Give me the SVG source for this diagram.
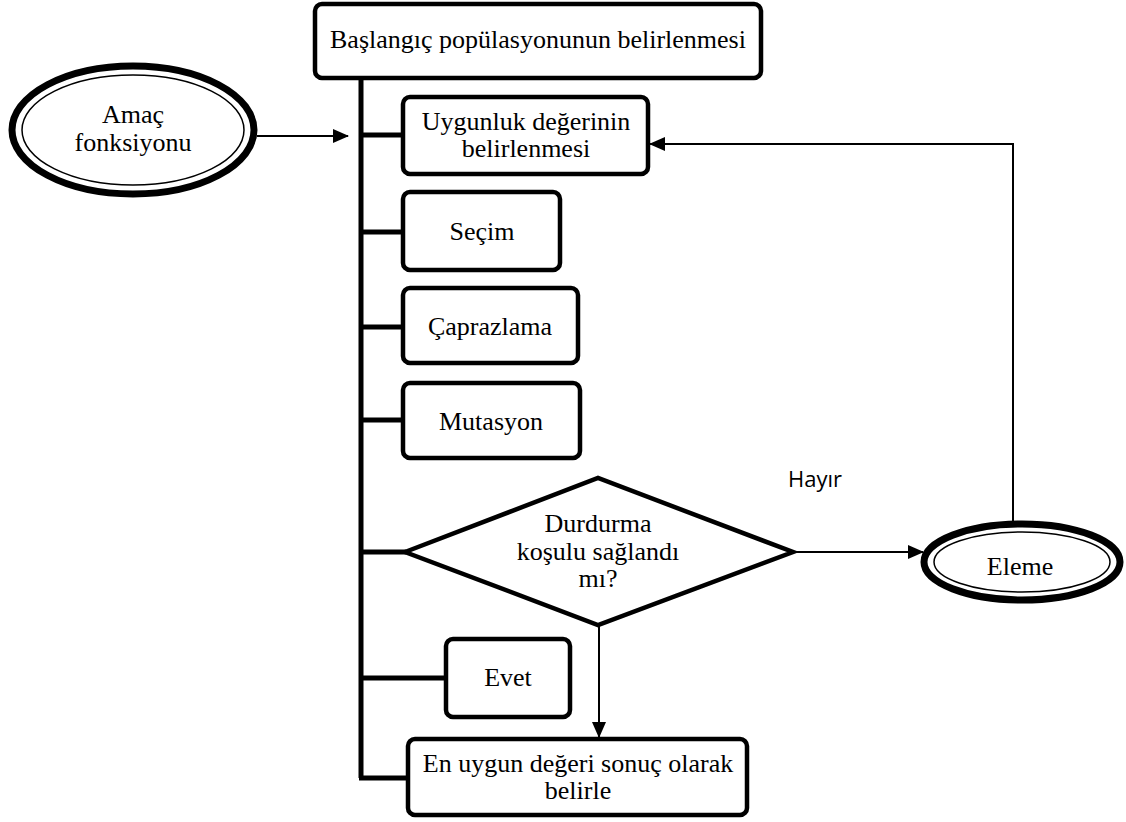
<svg xmlns="http://www.w3.org/2000/svg" width="1126" height="822" viewBox="0 0 1126 822">
<style>
.box{fill:#fff;stroke:#000;stroke-width:4.5}
.t{font-family:"Liberation Serif","Times New Roman",serif;font-size:26px;fill:#000;text-anchor:middle}
.s{font-family:"Open Sans","Liberation Sans",sans-serif;font-size:22px;fill:#000}
.trunk{stroke:#000;stroke-width:5;fill:none}
.thin{stroke:#000;stroke-width:2;fill:none}
.outer{fill:#fff;stroke:#000;stroke-width:7}
.inner{fill:none;stroke:#000;stroke-width:1.5}
</style>
<defs>
<marker id="ah" markerWidth="16" markerHeight="14" refX="15" refY="7" orient="auto" markerUnits="userSpaceOnUse">
<path d="M0,0 L16,7 L0,14 Z" fill="#000"/>
</marker>
</defs>
<rect width="1126" height="822" fill="#fff"/>
<g id="connectors">
<path class="trunk" d="M361,78 V778"/>
<path class="trunk" d="M361,135 H404"/>
<path class="trunk" d="M361,232 H404"/>
<path class="trunk" d="M361,327 H404"/>
<path class="trunk" d="M361,420 H404"/>
<path class="trunk" d="M361,552 H406"/>
<path class="trunk" d="M361,678 H447"/>
<path class="trunk" d="M359,778 H409"/>
<path class="thin" d="M257,136 H348" marker-end="url(#ah)"/>
<path class="thin" d="M794,552 H923" marker-end="url(#ah)"/>
<path class="thin" d="M599,626 V737" marker-end="url(#ah)"/>
<path class="thin" d="M1013,522 V144 H650" marker-end="url(#ah)"/>
</g>
<g id="start">
<rect class="box" x="315" y="4" width="446" height="74" rx="7"/>
<text class="t" x="538" y="48">Başlangıç popülasyonunun belirlenmesi</text>
</g>
<g id="amac">
<ellipse class="outer" cx="133" cy="130" rx="121" ry="64"/>
<ellipse class="inner" cx="133" cy="130" rx="111" ry="55"/>
<text class="t" x="133" y="123">Amaç</text>
<text class="t" x="133" y="151">fonksiyonu</text>
</g>
<g id="uygunluk">
<rect class="box" x="403" y="97" width="245" height="77" rx="7"/>
<text class="t" x="526" y="130">Uygunluk değerinin</text>
<text class="t" x="526" y="157">belirlenmesi</text>
</g>
<g id="secim">
<rect class="box" x="403" y="192" width="157" height="78" rx="7"/>
<text class="t" x="482" y="240">Seçim</text>
</g>
<g id="caprazlama">
<rect class="box" x="403" y="288" width="175" height="75" rx="7"/>
<text class="t" x="490" y="335">Çaprazlama</text>
</g>
<g id="mutasyon">
<rect class="box" x="403" y="383" width="177" height="75" rx="7"/>
<text class="t" x="491" y="430">Mutasyon</text>
</g>
<g id="karar">
<polygon class="box" points="405,552 598,478 793,552 598,625"/>
<text class="t" x="598" y="532">Durdurma</text>
<text class="t" x="598" y="560">koşulu sağlandı</text>
<text class="t" x="598" y="587">mı?</text>
</g>
<g id="hayir">
<text class="s" x="788" y="487">Hayır</text>
</g>
<g id="eleme">
<ellipse class="outer" cx="1022" cy="562" rx="98" ry="38"/>
<ellipse class="inner" cx="1022" cy="562" rx="88" ry="30"/>
<text class="t" x="1020" y="575">Eleme</text>
</g>
<g id="evet">
<rect class="box" x="446" y="639" width="124" height="78" rx="7"/>
<text class="t" x="508" y="686">Evet</text>
</g>
<g id="sonuc">
<rect class="box" x="408" y="739" width="339" height="76" rx="7"/>
<text class="t" x="578" y="772">En uygun değeri sonuç olarak</text>
<text class="t" x="578" y="799">belirle</text>
</g>
</svg>
